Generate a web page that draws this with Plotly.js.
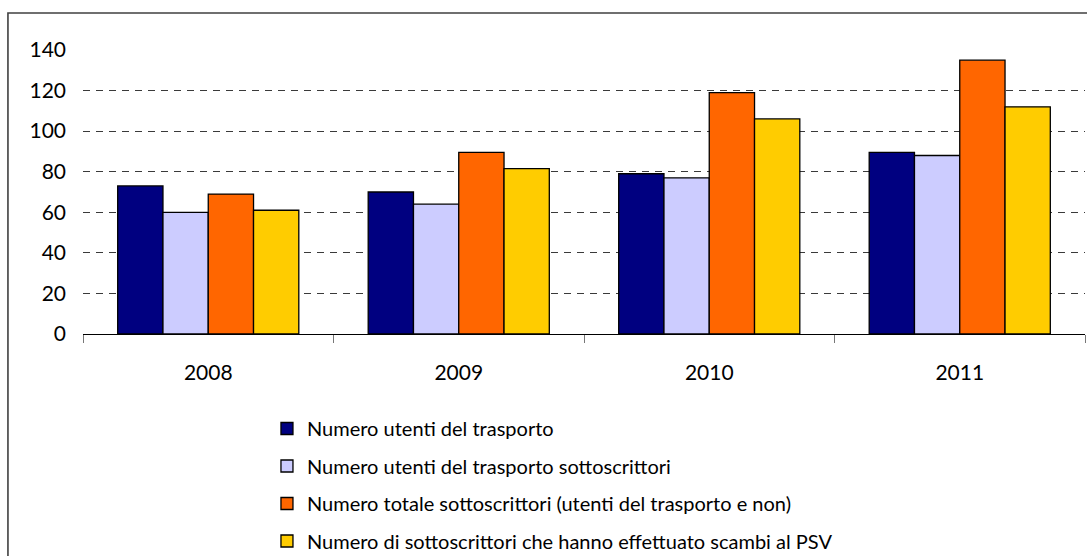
<!DOCTYPE html>
<html>
<head>
<meta charset="utf-8">
<script src="https://cdn.plot.ly/plotly-3.0.1.min.js"></script>
<style>html,body{margin:0;padding:0;background:#fff;overflow:hidden;}#chart{width:1087px;height:556px;}</style>
</head>
<body>
<div id="chart"></div>
<script>
const years = ['2008', '2009', '2010', '2011'];
const seriesNames = [
  'Numero utenti del trasporto',
  'Numero utenti del trasporto sottoscrittori',
  'Numero totale sottoscrittori (utenti del trasporto e non)',
  'Numero di sottoscrittori che hanno effettuato scambi al PSV'
];
const utentiTrasporto = [73, 70, 79, 89.5];
const utentiSottoscrittori = [60, 64, 77, 88];
const totaleSottoscrittori = [69, 89.5, 119, 135];
const sottoscrittoriScambi = [61, 81.5, 106, 112];
const colors = ['#000080', '#CCCCFF', '#FF6600', '#FFCC00'];
const allValues = [utentiTrasporto, utentiSottoscrittori, totaleSottoscrittori, sottoscrittoriScambi];

const traces = allValues.map((vals, i) => ({
  type: 'bar',
  x: years,
  y: vals,
  name: seriesNames[i],
  legendgroup: 'g' + i,
  marker: {color: colors[i], line: {color: '#000000', width: 1.3}},
  hoverinfo: 'x+y+name'
}));

const FONT = 'Lato, "Open Sans", sans-serif';
const layout = {
  width: 1087, height: 556,
  margin: {l: 83, r: 2, t: 50, b: 222, autoexpand: false},
  paper_bgcolor: '#ffffff', plot_bgcolor: '#ffffff',
  font: {family: FONT, color: '#000000'},
  barmode: 'group',
  bargap: 0.277,
  bargroupgap: 0,
  showlegend: true,
  legend: {
    x: 0.1836, xanchor: 'left', y: -0.2641, yanchor: 'top',
    orientation: 'v', traceorder: 'grouped', tracegroupgap: 8.5,
    font: {family: FONT, size: 20, color: '#000000'},
    bgcolor: 'rgba(0,0,0,0)'
  },
  xaxis: {
    type: 'category',
    showline: true, linecolor: '#000000', linewidth: 1,
    ticks: 'outside', tickson: 'boundaries', ticklen: 8, tickcolor: '#777777', tickwidth: 1,
    tickfont: {family: FONT, size: 21, color: '#000000'},
    ticklabelstandoff: 20,
    showgrid: false, zeroline: false
  },
  yaxis: {
    range: [0, 140], dtick: 20, tick0: 0,
    showline: false, ticks: '',
    showgrid: true, gridcolor: '#3a3a3a', gridwidth: 1, griddash: '7px,6px',
    zeroline: false,
    tickfont: {family: FONT, size: 21, color: '#000000'},
    ticklabelstandoff: 16
  },
  shapes: [{
    type: 'rect', xref: 'paper', yref: 'paper',
    x0: -0.0749, x1: 1.2, y0: -1.5, y1: 1.1303,
    line: {color: '#404040', width: 1.6}, fillcolor: 'rgba(0,0,0,0)', layer: 'below'
  }]
};

Plotly.newPlot('chart', traces, layout, {displayModeBar: false, staticPlot: true});
</script>
</body>
</html>
